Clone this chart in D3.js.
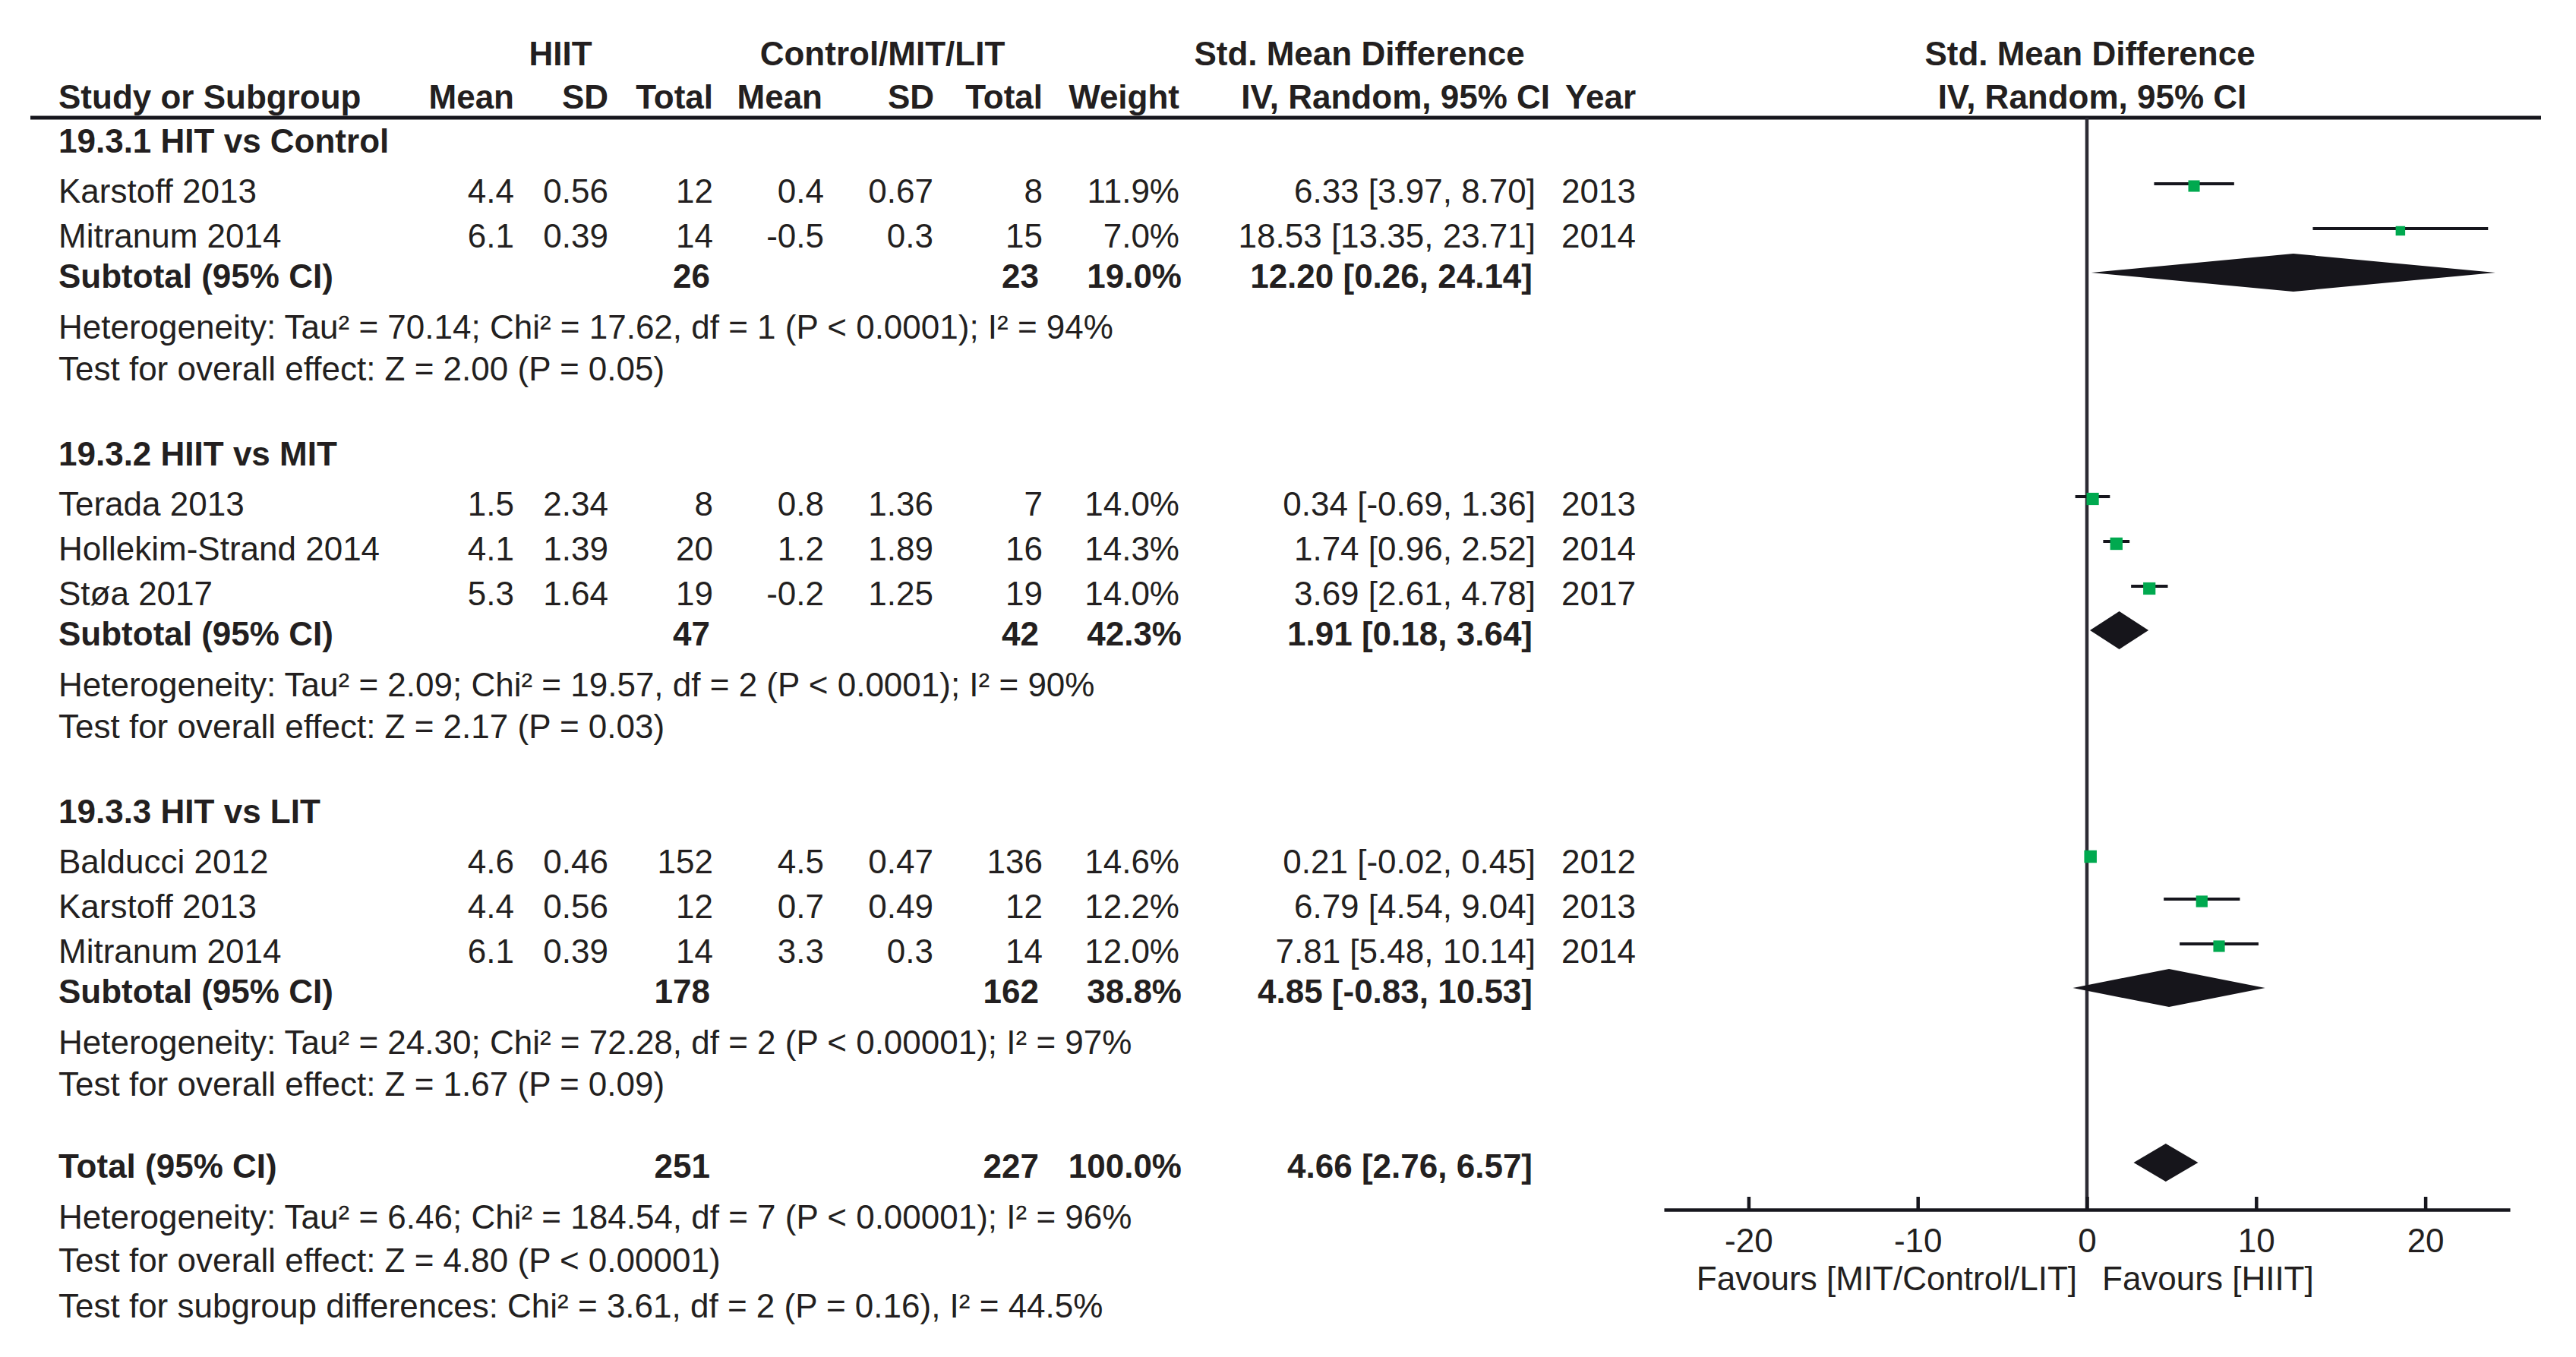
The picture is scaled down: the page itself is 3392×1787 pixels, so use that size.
<!DOCTYPE html>
<html>
<head>
<meta charset="utf-8">
<script src="https://cdn.jsdelivr.net/npm/d3@7"></script>
<style>
  html, body { margin: 0; padding: 0; background: #ffffff; }
  svg { display: block; }
  text { font-family: "Liberation Sans", Arial, Helvetica, sans-serif; fill: #231f20; }
</style>
</head>
<body>
<script>
// ---------------- DATA ----------------
const groupLabels = ["19.3.1 HIT vs Control", "19.3.2 HIIT vs MIT", "19.3.3 HIT vs LIT"];

const studyNames = ["Karstoff 2013", "Mitranum 2014", "Terada 2013", "Hollekim-Strand 2014", "Støa 2017", "Balducci 2012", "Karstoff 2013", "Mitranum 2014"];
const studyGroup = [0, 0, 1, 1, 1, 2, 2, 2];
const hiitMean  = [4.4, 6.1, 1.5, 4.1, 5.3, 4.6, 4.4, 6.1];
const hiitSD    = [0.56, 0.39, 2.34, 1.39, 1.64, 0.46, 0.56, 0.39];
const hiitTotal = [12, 14, 8, 20, 19, 152, 12, 14];
const ctrlMean  = [0.4, -0.5, 0.8, 1.2, -0.2, 4.5, 0.7, 3.3];
const ctrlSD    = [0.67, 0.3, 1.36, 1.89, 1.25, 0.47, 0.49, 0.3];
const ctrlTotal = [8, 15, 7, 16, 19, 136, 12, 14];
const weights   = [11.9, 7.0, 14.0, 14.3, 14.0, 14.6, 12.2, 12.0];
const smd       = [6.33, 18.53, 0.34, 1.74, 3.69, 0.21, 6.79, 7.81];
const ciLow     = [3.97, 13.35, -0.69, 0.96, 2.61, -0.02, 4.54, 5.48];
const ciHigh    = [8.70, 23.71, 1.36, 2.52, 4.78, 0.45, 9.04, 10.14];
const years     = [2013, 2014, 2013, 2014, 2017, 2012, 2013, 2014];

const subHiitTotal = [26, 47, 178];
const subCtrlTotal = [23, 42, 162];
const subWeight    = [19.0, 42.3, 38.8];
const subSMD       = [12.20, 1.91, 4.85];
const subLow       = [0.26, 0.18, -0.83];
const subHigh      = [24.14, 3.64, 10.53];
const subHet = [
  "Heterogeneity: Tau² = 70.14; Chi² = 17.62, df = 1 (P < 0.0001); I² = 94%",
  "Heterogeneity: Tau² = 2.09; Chi² = 19.57, df = 2 (P < 0.0001); I² = 90%",
  "Heterogeneity: Tau² = 24.30; Chi² = 72.28, df = 2 (P < 0.00001); I² = 97%"
];
const subTest = [
  "Test for overall effect: Z = 2.00 (P = 0.05)",
  "Test for overall effect: Z = 2.17 (P = 0.03)",
  "Test for overall effect: Z = 1.67 (P = 0.09)"
];

const totalHiit = 251, totalCtrl = 227, totalWeight = 100.0;
const totalSMD = 4.66, totalLow = 2.76, totalHigh = 6.57;
const totalTexts = [
  "Heterogeneity: Tau² = 6.46; Chi² = 184.54, df = 7 (P < 0.00001); I² = 96%",
  "Test for overall effect: Z = 4.80 (P < 0.00001)",
  "Test for subgroup differences: Chi² = 3.61, df = 2 (P = 0.16), I² = 44.5%"
];

const axisTicks = [-20, -10, 0, 10, 20];
const axisDomain = [-25, 25];
const favoursLeft = "Favours [MIT/Control/LIT]";
const favoursRight = "Favours [HIIT]";

// ---------------- LAYOUT ----------------
const W = 3392, H = 1787;
const FS = 44;
const ink = "#231f20";
const dark = "#16161d";
const green = "#00a94f";

const svg = d3.select("body").append("svg").attr("width", W).attr("height", H);
svg.append("rect").attr("width", W).attr("height", H).attr("fill", "#fff");

const x = d3.scaleLinear().domain(axisDomain).range([2191, 3305]);
const boxSize = d3.scaleLinear().domain([7.0, 14.6]).range([12.5, 16.5]);

// column anchors (text-anchor end)
const col = { label: 77, hMean: 677, hSD: 801, hTot: 939, cMean: 1085, cSD: 1229, cTot: 1373, wt: 1553, ci: 2022, yr: 2154 };
const colB = { hTot: 935, cTot: 1368, wt: 1556, ci: 2018 };

function txt(xp, yp, s, anchor, bold) {
  return svg.append("text").attr("x", xp).attr("y", yp)
    .attr("text-anchor", anchor || "start")
    .attr("font-size", FS)
    .attr("font-weight", bold ? "bold" : "normal")
    .text(s);
}
const fmtCI = (e, l, h) => `${e.toFixed(2)} [${l.toFixed(2)}, ${h.toFixed(2)}]`;

// Build row list
const rows = [];
groupLabels.forEach((g, gi) => {
  rows.push({ type: "group", gi });
  studyNames.forEach((n, i) => { if (studyGroup[i] === gi) rows.push({ type: "study", i }); });
  rows.push({ type: "subtotal", gi });
  rows.push({ type: "het", s: subHet[gi] });
  rows.push({ type: "test", s: subTest[gi] });
});
rows.push({ type: "total" });
rows.push({ type: "het", s: totalTexts[0] });
rows.push({ type: "test2", s: totalTexts[1] });
rows.push({ type: "test3", s: totalTexts[2] });

const gapRule = {
  "test>group": 112, "group>study": 66, "study>study": 59, "study>subtotal": 53,
  "subtotal>het": 67, "total>het": 67, "het>test": 55, "test>total": 108,
  "het>test2": 57, "test2>test3": 60
};
let yb = 201;
rows.forEach((r, k) => {
  if (k > 0) yb += gapRule[rows[k - 1].type + ">" + r.type];
  r.y = yb;
});

// ---------------- HEADERS ----------------
txt(738, 86, "HIIT", "middle", true);
txt(1162, 86, "Control/MIT/LIT", "middle", true);
txt(1790, 86, "Std. Mean Difference", "middle", true);
txt(2752, 86, "Std. Mean Difference", "middle", true);

const hy = 143;
txt(col.label, hy, "Study or Subgroup", "start", true);
txt(col.hMean, hy, "Mean", "end", true);
txt(col.hSD, hy, "SD", "end", true);
txt(col.hTot, hy, "Total", "end", true);
txt(1083, hy, "Mean", "end", true);
txt(1230, hy, "SD", "end", true);
txt(col.cTot, hy, "Total", "end", true);
txt(col.wt, hy, "Weight", "end", true);
txt(2041, hy, "IV, Random, 95% CI", "end", true);
txt(col.yr, hy, "Year", "end", true);
txt(2755, hy, "IV, Random, 95% CI", "middle", true);

// header rule
svg.append("line").attr("x1", 40).attr("x2", 3346).attr("y1", 155).attr("y2", 155)
  .attr("stroke", dark).attr("stroke-width", 5);

// ---------------- PLOT: zero line + axis ----------------
const axisY = 1593;
svg.append("line").attr("x1", x(0)).attr("x2", x(0)).attr("y1", 155).attr("y2", axisY + 2)
  .attr("stroke", "#2b2a33").attr("stroke-width", 4.5);

const axis = d3.axisBottom(x).tickValues(axisTicks).tickSizeInner(-17).tickSizeOuter(0).tickPadding(25)
  .tickFormat(d => String(d));
const ag = svg.append("g").attr("transform", `translate(0,${axisY})`).call(axis);
ag.select(".domain").attr("stroke", dark).attr("stroke-width", 4.5);
ag.selectAll(".tick line").attr("stroke", dark).attr("stroke-width", 4.5);
ag.selectAll(".tick text").attr("font-size", FS).attr("fill", ink)
  .attr("font-family", "'Liberation Sans', Arial, sans-serif");

txt(x(0) - 13, 1699, favoursLeft, "end", false);
txt(x(0) + 20, 1699, favoursRight, "start", false);

// ---------------- ROWS ----------------
const marks = svg.append("g");
rows.forEach(r => {
  if (r.type === "group") {
    txt(col.label, r.y, groupLabels[r.gi], "start", true);
  } else if (r.type === "study") {
    const i = r.i;
    txt(col.label, r.y, studyNames[i]);
    txt(col.hMean, r.y, String(hiitMean[i]), "end");
    txt(col.hSD, r.y, String(hiitSD[i]), "end");
    txt(col.hTot, r.y, String(hiitTotal[i]), "end");
    txt(col.cMean, r.y, String(ctrlMean[i]), "end");
    txt(col.cSD, r.y, String(ctrlSD[i]), "end");
    txt(col.cTot, r.y, String(ctrlTotal[i]), "end");
    txt(col.wt, r.y, weights[i].toFixed(1) + "%", "end");
    txt(col.ci, r.y, fmtCI(smd[i], ciLow[i], ciHigh[i]), "end");
    txt(col.yr, r.y, String(years[i]), "end");
    // CI line and box
    marks.append("line").attr("x1", x(ciLow[i])).attr("x2", x(ciHigh[i]))
      .attr("y1", r.y - 25).attr("y2", r.y - 25).attr("stroke", dark).attr("stroke-width", 4);
    const s = boxSize(weights[i]);
    marks.append("rect").attr("x", x(smd[i]) - s / 2).attr("y", r.y - 22 - s / 2)
      .attr("width", s).attr("height", s).attr("fill", green);
  } else if (r.type === "subtotal" || r.type === "total") {
    const isT = r.type === "total";
    const gi = r.gi;
    txt(col.label, r.y, isT ? "Total (95% CI)" : "Subtotal (95% CI)", "start", true);
    txt(colB.hTot, r.y, String(isT ? totalHiit : subHiitTotal[gi]), "end", true);
    txt(colB.cTot, r.y, String(isT ? totalCtrl : subCtrlTotal[gi]), "end", true);
    txt(colB.wt, r.y, (isT ? totalWeight : subWeight[gi]).toFixed(1) + "%", "end", true);
    const e = isT ? totalSMD : subSMD[gi], lo = isT ? totalLow : subLow[gi], hi = isT ? totalHigh : subHigh[gi];
    txt(colB.ci, r.y, fmtCI(e, lo, hi), "end", true);
    const yc = r.y - 20;
    marks.append("polygon")
      .attr("points", [[x(lo), yc], [x(e), yc - 25], [x(hi), yc], [x(e), yc + 25]].map(p => p.join(",")).join(" "))
      .attr("fill", "#16151b");
  } else {
    txt(col.label, r.y, r.s);
  }
});
</script>
</body>
</html>
